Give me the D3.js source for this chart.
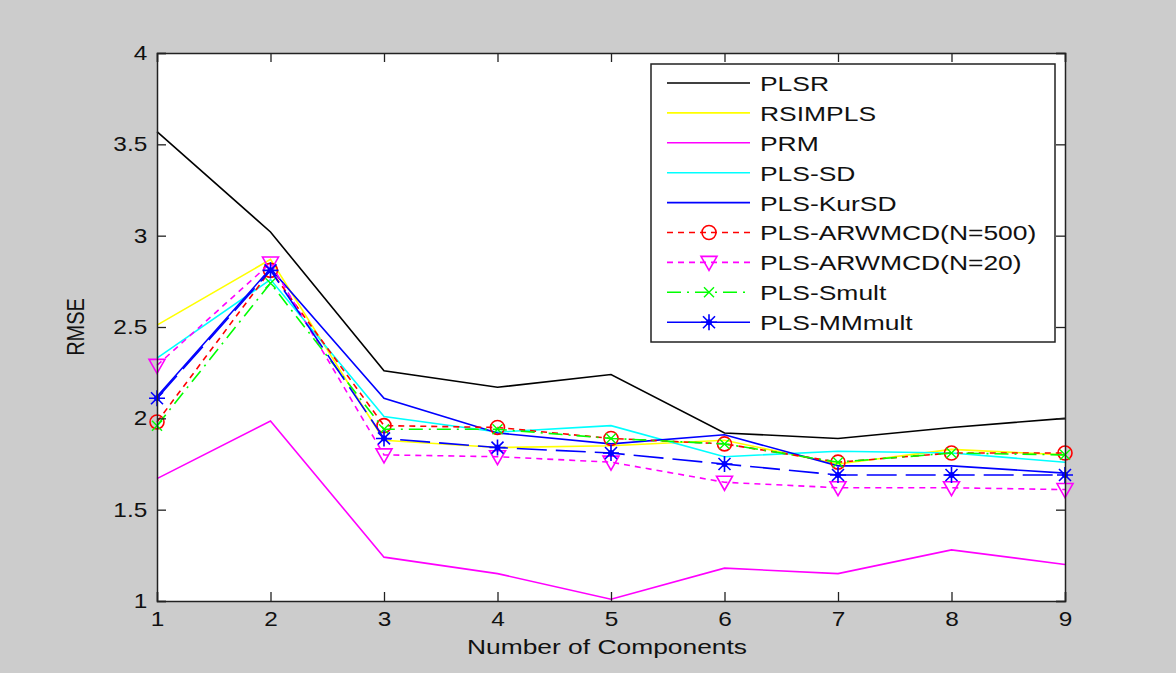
<!DOCTYPE html>
<html>
<head>
<meta charset="utf-8">
<script src="https://cdn.jsdelivr.net/npm/d3@7"></script>
<style>
  body { margin: 0; background: #cccccc; }
  svg { display: block; }
  text { font-family: "Liberation Sans", Arial, sans-serif; fill: #111; }
</style>
</head>
<body>
<div id="chartContainer"></div>
<script>
var components = [1, 2, 3, 4, 5, 6, 7, 8, 9]
var yTicks = [1, 1.5, 2, 2.5, 3, 3.5, 4]

var plsr      = [3.57, 3.02, 2.26, 2.17, 2.24, 1.92, 1.89, 1.95, 2.00]
var rsimpls   = [2.51, 2.87, 1.88, 1.84, 1.85, 1.88, 1.75, 1.83, 1.80]
var prm       = [1.67, 1.985, 1.24, 1.15, 1.01, 1.18, 1.15, 1.28, 1.20]
var plsSD     = [2.33, 2.76, 2.01, 1.925, 1.96, 1.79, 1.82, 1.81, 1.76]
var plsKurSD  = [2.12, 2.82, 2.11, 1.92, 1.86, 1.91, 1.74, 1.74, 1.70]
var arw500    = [1.98, 2.81, 1.96, 1.95, 1.89, 1.86, 1.76, 1.81, 1.81]
var arw20     = [2.29, 2.85, 1.80, 1.79, 1.76, 1.65, 1.62, 1.62, 1.61]
var smult     = [1.96, 2.74, 1.94, 1.94, 1.89, 1.86, 1.76, 1.81, 1.80]
var mmmult    = [2.11, 2.81, 1.89, 1.84, 1.81, 1.75, 1.69, 1.69, 1.69]

var seriesNames = ['PLSR', 'RSIMPLS', 'PRM', 'PLS-SD', 'PLS-KurSD',
                   'PLS-ARWMCD(N=500)', 'PLS-ARWMCD(N=20)', 'PLS-Smult', 'PLS-MMmult']

var series = [
    {name: seriesNames[0], values: plsr,     color: '#000000', dash: null,        marker: null},
    {name: seriesNames[1], values: rsimpls,  color: '#ffff00', dash: null,        marker: null},
    {name: seriesNames[2], values: prm,      color: '#ff00ff', dash: null,        marker: null},
    {name: seriesNames[3], values: plsSD,    color: '#00ffff', dash: null,        marker: null},
    {name: seriesNames[4], values: plsKurSD, color: '#0000ff', dash: null,        marker: null},
    {name: seriesNames[5], values: arw500,   color: '#ff0000', dash: '6,5',       marker: 'circle'},
    {name: seriesNames[6], values: arw20,    color: '#ff00ff', dash: '6,5',       marker: 'triangle'},
    {name: seriesNames[7], values: smult,    color: '#00ff00', dash: '14,6,2,6',  marker: 'x'},
    {name: seriesNames[8], values: mmmult,   color: '#0000ff', dash: '30,9',      marker: 'star', legendDash: null}
]

var W = 1176, H = 673
var margin = {left: 157, right: 1065, top: 53, bottom: 601}
var STRETCH = 1.22

var svg = d3.select('#chartContainer').append('svg')
    .attr('width', W).attr('height', H)

svg.append('rect').attr('width', W).attr('height', H).attr('fill', '#cccccc')

var xScale = d3.scaleLinear().domain([1, 9]).range([margin.left, margin.right])
var yScale = d3.scaleLinear().domain([1, 4]).range([margin.bottom, margin.top])

svg.append('rect')
    .attr('x', margin.left).attr('y', margin.top)
    .attr('width', margin.right - margin.left)
    .attr('height', margin.bottom - margin.top)
    .attr('fill', '#ffffff')

var plot = svg.append('g')

var line = d3.line()
    .x(function(d, i) { return xScale(components[i]) })
    .y(function(d) { return yScale(d) })

function drawMarker(g, type, color) {
    if (type == 'circle') {
        g.append('circle').attr('r', 7).attr('fill', 'none')
         .attr('stroke', color).attr('stroke-width', 1.6)
    } else if (type == 'triangle') {
        g.append('path').attr('d', 'M-8,-6L8,-6L0,8Z').attr('fill', 'none')
         .attr('stroke', color).attr('stroke-width', 1.6)
    } else if (type == 'x') {
        g.append('path').attr('d', 'M-5,-5L5,5M-5,5L5,-5').attr('fill', 'none')
         .attr('stroke', color).attr('stroke-width', 1.4)
    } else if (type == 'star') {
        g.append('path').attr('d', 'M-8,0L8,0M0,-8L0,8M-6,-6L6,6M-6,6L6,-6')
         .attr('fill', 'none').attr('stroke', color).attr('stroke-width', 1.6)
        g.append('circle').attr('r', 3).attr('fill', color)
    }
}

series.forEach(function(s) {
    plot.append('path')
        .datum(s.values)
        .attr('d', line)
        .attr('fill', 'none')
        .attr('stroke', s.color)
        .attr('stroke-width', 1.6)
        .attr('stroke-dasharray', s.dash)
    if (s.marker) {
        s.values.forEach(function(v, i) {
            var g = plot.append('g')
                .attr('transform', 'translate(' + xScale(components[i]) + ',' + yScale(v) + ')')
            drawMarker(g, s.marker, s.color)
        })
    }
})

// axes, MATLAB style box with inward ticks
var axisStyle = function(g) {
    g.select('.domain').attr('stroke', '#222').attr('stroke-width', 1.5)
    g.selectAll('.tick line').attr('stroke', '#222').attr('stroke-width', 1.3)
    g.selectAll('text').style('font-size', '20px').attr('fill', '#111')
}

var xAxis = svg.append('g')
    .attr('transform', 'translate(0,' + margin.bottom + ')')
    .call(d3.axisBottom(xScale).tickValues(components).tickSize(-9).tickPadding(11).tickFormat(d3.format('d')))
    .call(axisStyle)
xAxis.selectAll('text').attr('transform', 'scale(' + STRETCH + ',1)')

var yAxis = svg.append('g')
    .attr('transform', 'translate(' + margin.left + ',0)')
    .call(d3.axisLeft(yScale).tickValues(yTicks).tickSize(-9).tickPadding(8).tickFormat(d3.format('')))
    .call(axisStyle)
yAxis.selectAll('text').attr('transform', 'scale(' + STRETCH + ',1)')

svg.append('g')
    .attr('transform', 'translate(0,' + margin.top + ')')
    .call(d3.axisTop(xScale).tickValues(components).tickSize(-9).tickFormat(''))
    .call(axisStyle)

svg.append('g')
    .attr('transform', 'translate(' + margin.right + ',0)')
    .call(d3.axisRight(yScale).tickValues(yTicks).tickSize(-9).tickFormat(''))
    .call(axisStyle)

// axis titles
svg.append('text')
    .attr('transform', 'translate(' + 607 + ',647) scale(1.32,1)')
    .attr('text-anchor', 'middle')
    .attr('dominant-baseline', 'central')
    .style('font-size', '20px')
    .text('Number of Components')

svg.append('text')
    .attr('transform', 'translate(76,' + ((margin.top + margin.bottom) / 2) + ') scale(' + STRETCH + ',1) rotate(-90)')
    .attr('text-anchor', 'middle')
    .attr('dominant-baseline', 'central')
    .style('font-size', '20px')
    .text('RMSE')

// legend
var legend = svg.append('g')
legend.append('rect')
    .attr('x', 651).attr('y', 64).attr('width', 404).attr('height', 278)
    .attr('fill', '#ffffff').attr('stroke', '#222').attr('stroke-width', 1.5)

series.forEach(function(s, i) {
    var ly = 83 + i * 29.9
    var row = legend.append('g').attr('transform', 'translate(0,' + ly + ')')
    var dash = s.legendDash !== undefined ? s.legendDash : s.dash
    row.append('line')
        .attr('x1', 667).attr('x2', 750).attr('y1', 0).attr('y2', 0)
        .attr('stroke', s.color).attr('stroke-width', 1.6)
        .attr('stroke-dasharray', dash)
    if (s.marker) {
        var g = row.append('g').attr('transform', 'translate(709,0)')
        drawMarker(g, s.marker, s.color)
    }
    row.append('text')
        .attr('transform', 'translate(760,1) scale(1.29,1)')
        .attr('dominant-baseline', 'central')
        .style('font-size', '20.5px')
        .text(s.name)
})
</script>
</body>
</html>
